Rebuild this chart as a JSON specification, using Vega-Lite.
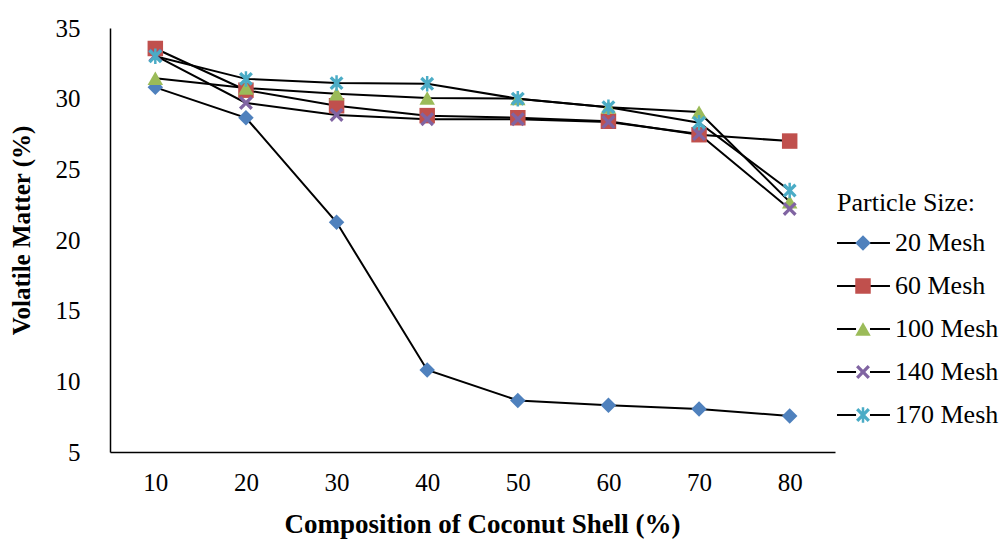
{
  "$schema": "https://vega.github.io/schema/vega-lite/v6.json",
  "width": 725,
  "height": 424,
  "autosize": "none",
  "padding": {"left": 110, "top": 28, "right": 169, "bottom": 87},
  "background": "white",
  "config": {
    "view": {"stroke": null},
    "font": "Liberation Serif",
    "axis": {
      "domainColor": "black",
      "domainWidth": 1.5,
      "ticks": false,
      "grid": false,
      "labelFont": "Liberation Serif",
      "labelFontSize": 25,
      "labelColor": "black",
      "titleFont": "Liberation Serif",
      "titleFontWeight": "bold",
      "titleColor": "black"
    },
    "legend": {
      "labelFont": "Liberation Serif",
      "labelFontSize": 26,
      "labelColor": "black",
      "titleFont": "Liberation Serif",
      "titleFontSize": 26,
      "titleFontWeight": "normal",
      "titleColor": "black",
      "padding": 0
    }
  },
  "data": {
    "values": [
      {"composition": 10, "mesh": 20, "volatile": 30.8},
      {"composition": 20, "mesh": 20, "volatile": 28.65},
      {"composition": 30, "mesh": 20, "volatile": 21.25},
      {"composition": 40, "mesh": 20, "volatile": 10.8},
      {"composition": 50, "mesh": 20, "volatile": 8.65},
      {"composition": 60, "mesh": 20, "volatile": 8.3},
      {"composition": 70, "mesh": 20, "volatile": 8.05},
      {"composition": 80, "mesh": 20, "volatile": 7.55},
      {"composition": 10, "mesh": 60, "volatile": 33.55},
      {"composition": 20, "mesh": 60, "volatile": 30.6},
      {"composition": 30, "mesh": 60, "volatile": 29.5},
      {"composition": 40, "mesh": 60, "volatile": 28.8},
      {"composition": 50, "mesh": 60, "volatile": 28.65},
      {"composition": 60, "mesh": 60, "volatile": 28.4},
      {"composition": 70, "mesh": 60, "volatile": 27.45},
      {"composition": 80, "mesh": 60, "volatile": 27.0},
      {"composition": 10, "mesh": 100, "volatile": 31.45},
      {"composition": 20, "mesh": 100, "volatile": 30.75},
      {"composition": 30, "mesh": 100, "volatile": 30.35},
      {"composition": 40, "mesh": 100, "volatile": 30.05},
      {"composition": 50, "mesh": 100, "volatile": 30.0},
      {"composition": 60, "mesh": 100, "volatile": 29.4},
      {"composition": 70, "mesh": 100, "volatile": 29.05},
      {"composition": 80, "mesh": 100, "volatile": 22.7},
      {"composition": 10, "mesh": 140, "volatile": 33.05},
      {"composition": 20, "mesh": 140, "volatile": 29.7},
      {"composition": 30, "mesh": 140, "volatile": 28.85},
      {"composition": 40, "mesh": 140, "volatile": 28.55},
      {"composition": 50, "mesh": 140, "volatile": 28.55},
      {"composition": 60, "mesh": 140, "volatile": 28.35},
      {"composition": 70, "mesh": 140, "volatile": 27.5},
      {"composition": 80, "mesh": 140, "volatile": 22.2},
      {"composition": 10, "mesh": 170, "volatile": 33.0},
      {"composition": 20, "mesh": 170, "volatile": 31.4},
      {"composition": 30, "mesh": 170, "volatile": 31.1},
      {"composition": 40, "mesh": 170, "volatile": 31.05},
      {"composition": 50, "mesh": 170, "volatile": 30.0},
      {"composition": 60, "mesh": 170, "volatile": 29.4},
      {"composition": 70, "mesh": 170, "volatile": 28.3},
      {"composition": 80, "mesh": 170, "volatile": 23.5}
    ]
  },
  "encoding": {
    "x": {
      "field": "composition",
      "type": "ordinal",
      "scale": {"type": "point", "padding": 0.5},
      "axis": {"title": "Composition of Coconut Shell (%)", "titleFontSize": 27, "labelAngle": 0, "labelPadding": 18, "titlePadding": 16, "titleX": 372}
    },
    "y": {
      "field": "volatile",
      "type": "quantitative",
      "scale": {"domain": [5, 35], "nice": false, "zero": false},
      "axis": {"title": "Volatile Matter (%)", "titleFontSize": 25, "values": [5, 10, 15, 20, 25, 30, 35], "labelPadding": 30, "titlePadding": 21, "titleY": 202}
    }
  },
  "layer": [
    {
      "mark": {"type": "line", "strokeWidth": 2},
      "encoding": {
        "stroke": {
          "field": "mesh",
          "type": "nominal",
          "scale": {
            "domain": [20, 60, 100, 140, 170],
            "range": ["black", "black", "black", "black", "black"]
          },
          "legend": {
            "title": "Particle Size:",
            "orient": "none",
            "legendX": 727,
            "legendY": 162,
            "labelExpr": "datum.label + ' Mesh'",
            "symbolType": "M-1.68,0H0.78M2.58,0H5.16",
            "symbolSize": 240,
            "symbolStrokeWidth": 2.2,
            "symbolOffset": 0,
            "labelOffset": 32,
            "rowPadding": 17,
            "titlePadding": 14
          }
        }
      }
    },
    {
      "mark": {"type": "point", "filled": true, "size": 240, "opacity": 1},
      "encoding": {
        "color": {
          "field": "mesh",
          "type": "nominal",
          "scale": {"range": ["#4F81BD", "#C0504D", "#9BBB59", "#8064A2", "#4BACC6"]},
          "legend": {
            "title": " ",
            "orient": "none",
            "legendX": 740,
            "legendY": 162,
            "labelExpr": "''",
            "symbolSize": 240,
            "symbolOffset": 0,
            "symbolStrokeWidth": 0,
            "labelOffset": 5,
            "rowPadding": 17,
            "titlePadding": 14,
            "titleColor": "transparent",
            "labelColor": "transparent"
          }
        },
        "shape": {
          "field": "mesh",
          "type": "nominal",
          "scale": {
            "range": [
              "diamond",
              "square",
              "triangle-up",
              "M-0.9,-0.6L-0.6,-0.9L0,-0.3L0.6,-0.9L0.9,-0.6L0.3,0L0.9,0.6L0.6,0.9L0,0.3L-0.6,0.9L-0.9,0.6L-0.3,0Z",
              "M-0.9,-0.6L-0.6,-0.9L0,-0.3L0.6,-0.9L0.9,-0.6L0.3,0L0.9,0.6L0.6,0.9L0,0.3L-0.6,0.9L-0.9,0.6L-0.3,0ZM-0.16,-1L0.16,-1L0.16,1L-0.16,1Z"
            ]
          },
          "legend": {
            "title": " ",
            "orient": "none",
            "legendX": 740,
            "legendY": 162,
            "labelExpr": "''",
            "symbolSize": 240,
            "symbolOffset": 0,
            "symbolStrokeWidth": 0,
            "labelOffset": 5,
            "rowPadding": 17,
            "titlePadding": 14,
            "titleColor": "transparent",
            "labelColor": "transparent"
          }
        }
      }
    }
  ]
}
